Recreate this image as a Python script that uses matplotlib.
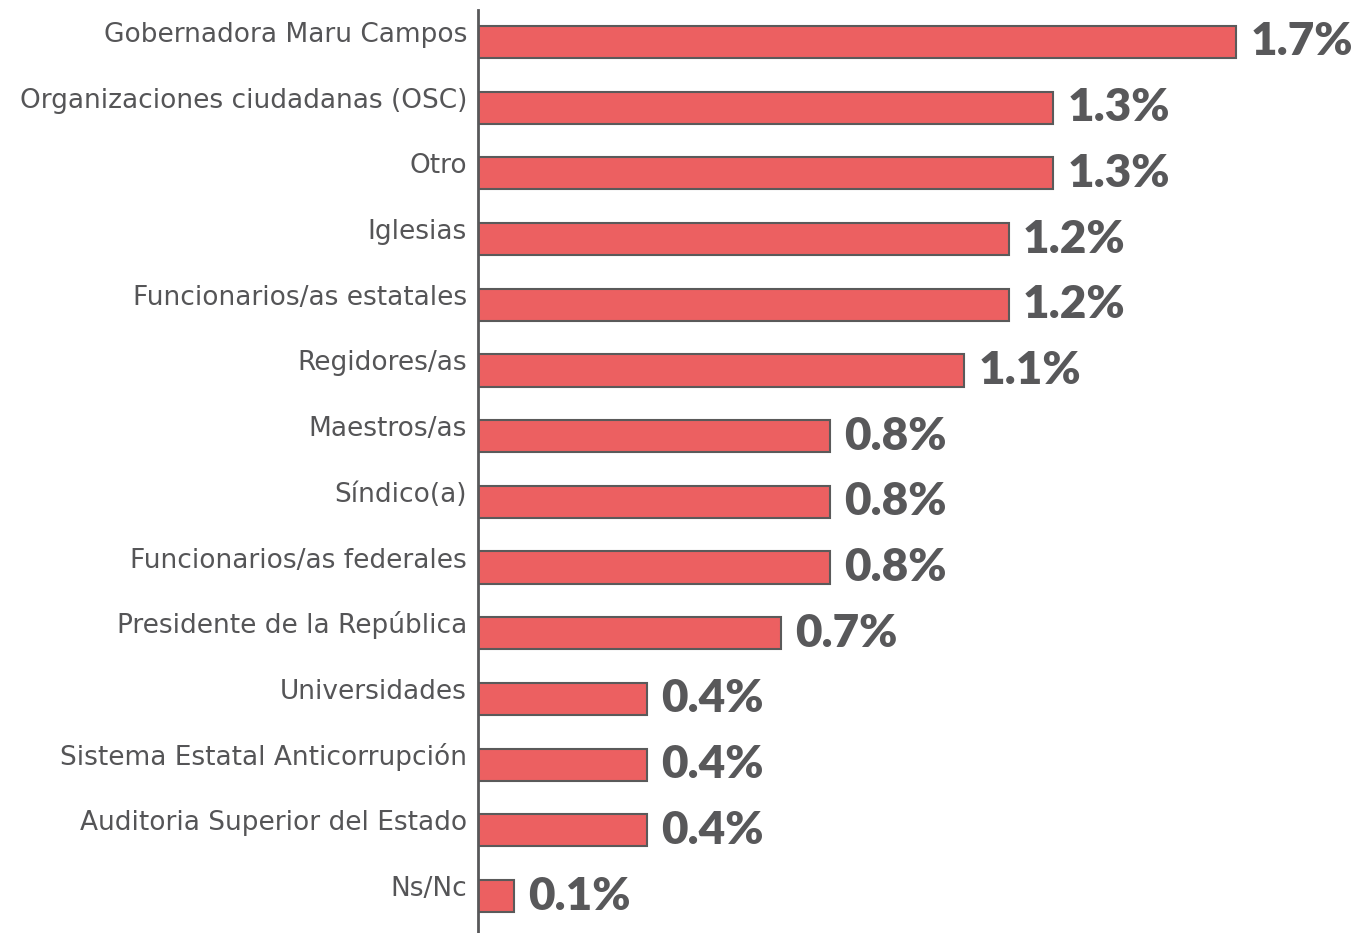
import matplotlib.pyplot as plt

categories = [
    "Gobernadora Maru Campos",
    "Organizaciones ciudadanas (OSC)",
    "Otro",
    "Iglesias",
    "Funcionarios/as estatales",
    "Regidores/as",
    "Maestros/as",
    "Síndico(a)",
    "Funcionarios/as federales",
    "Presidente de la República",
    "Universidades",
    "Sistema Estatal Anticorrupción",
    "Auditoria Superior del Estado",
    "Ns/Nc",
]
values = [1.70, 1.29, 1.29, 1.19, 1.19, 1.09, 0.79, 0.79, 0.79, 0.68, 0.38, 0.38, 0.38, 0.08]
value_labels = ["1.7%", "1.3%", "1.3%", "1.2%", "1.2%", "1.1%", "0.8%", "0.8%",
                "0.8%", "0.7%", "0.4%", "0.4%", "0.4%", "0.1%"]

fig = plt.figure(figsize=(13.54, 9.33), dpi=100)
ax = fig.add_axes([478 / 1354, 0, 1 - 478 / 1354, 923 / 933])

ypos = range(len(categories))
ax.barh(ypos, values, height=0.49, color="#EC6061", edgecolor="#5a5a5a", linewidth=1.5)

ax.set_xlim(0, 876 / 446)
ax.set_ylim(13 + 37 / 65.7, -32 / 65.7)

for y, v, lab in zip(ypos, values, value_labels):
    ax.text(v + 14 / 446, y, lab, va="center", ha="left", fontsize=33,
            fontweight="heavy", family="Lato", color="#58585a")

ax.set_yticks(list(ypos))
ax.set_yticklabels(categories, fontsize=19, family="DejaVu Sans", color="#555557",
                   va="baseline")
ax.tick_params(axis="y", length=0, pad=8)
ax.set_xticks([])

for s in ["top", "right", "bottom"]:
    ax.spines[s].set_visible(False)
ax.spines["left"].set_color("#58585a")
ax.spines["left"].set_linewidth(2)

fig.savefig("out.png", dpi=100)
